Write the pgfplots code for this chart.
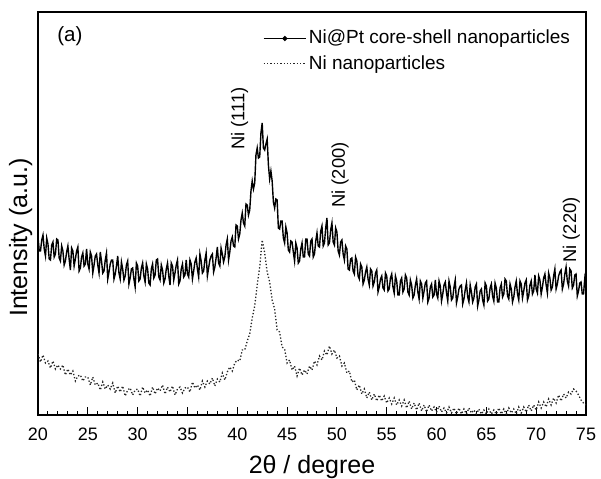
\documentclass[border=0pt]{standalone}
\usepackage{fontspec}
\setmainfont{Liberation Sans}
\usepackage{pgfplots}
\usepackage{pgfplotstable}
\pgfplotsset{compat=1.18}

% Ni@Pt core-shell (upper trace), intensity in arbitrary units
\pgfplotstableread{
x y
20.000 178
20.125 164
20.250 164
20.375 175
20.500 180
20.625 166
20.750 159
20.875 177
21.000 171
21.125 156
21.250 155
21.375 170
21.500 173
21.625 158
21.750 161
21.875 176
22.000 175
22.125 157
22.250 154
22.375 169
22.500 164
22.625 150
22.750 154
22.875 163
23.000 169
23.125 156
23.250 145
23.375 167
23.500 164
23.625 149
23.750 156
23.875 164
24.000 168
24.125 144
24.250 147
24.375 158
24.500 162
24.625 149
24.750 151
24.875 166
25.000 151
25.125 146
25.250 163
25.375 159
25.500 142
25.625 150
25.750 159
25.875 161
26.000 150
26.125 142
26.250 163
26.375 154
26.500 142
26.625 144
26.750 155
26.875 162
27.000 136
27.125 143
27.250 151
27.375 155
27.500 155
27.625 136
27.750 141
27.875 149
28.000 159
28.125 142
28.250 136
28.375 153
28.500 146
28.625 135
28.750 139
28.875 150
29.000 154
29.125 131
29.250 137
29.375 146
29.500 147
29.625 136
29.750 128
29.875 152
30.000 149
30.125 134
30.250 136
30.375 147
30.500 152
30.625 139
30.750 133
30.875 151
31.000 146
31.125 132
31.250 130
31.375 146
31.500 151
31.625 137
31.750 140
31.875 155
32.000 156
32.125 138
32.250 135
32.375 150
32.500 145
32.625 132
32.750 136
32.875 146
33.000 152
33.125 139
33.250 130
33.375 152
33.500 149
33.625 135
33.750 142
33.875 150
34.000 155
34.125 131
34.250 134
34.375 146
34.500 151
34.625 138
34.750 140
34.875 155
35.000 141
35.125 138
35.250 155
35.375 151
35.500 136
35.625 144
35.750 153
35.875 157
36.000 146
36.125 138
36.250 161
36.375 154
36.500 142
36.625 144
36.750 155
36.875 162
37.000 139
37.125 147
37.250 155
37.375 159
37.500 161
37.625 143
37.750 148
37.875 157
38.000 168
38.125 152
38.250 149
38.375 167
38.500 161
38.625 153
38.750 158
38.875 170
39.000 176
39.125 155
39.250 163
39.375 174
39.500 178
39.625 169
39.750 168
39.875 190
40.000 189
40.125 176
40.250 181
40.375 195
40.500 202
40.625 192
40.750 189
40.875 211
41.000 210
41.125 200
41.250 205
41.375 224
41.500 234
41.625 226
41.750 232
41.875 260
42.000 267
42.125 257
42.250 258
42.375 282
42.500 292
42.625 267
42.750 265
42.875 271
43.000 276
43.125 250
43.250 236
43.375 244
43.500 234
43.625 213
43.750 207
43.875 216
44.000 215
44.125 187
44.250 186
44.375 194
44.500 194
44.625 177
44.750 172
44.875 188
45.000 182
45.125 165
45.250 163
45.375 174
45.500 173
45.625 163
45.750 154
45.875 172
46.000 167
46.125 152
46.250 154
46.375 166
46.500 172
46.625 158
46.750 158
46.875 176
47.000 176
47.125 161
47.250 159
47.375 174
47.500 176
47.625 158
47.750 161
47.875 174
48.000 182
48.125 169
48.250 168
48.375 184
48.500 189
48.625 169
48.750 172
48.875 187
49.000 197
49.125 170
49.250 172
49.375 185
49.500 192
49.625 173
49.750 170
49.875 187
50.000 183
50.125 164
50.250 160
50.375 173
50.500 175
50.625 161
50.750 155
50.875 169
51.000 166
51.125 146
51.250 145
51.375 156
51.500 157
51.625 144
51.750 141
51.875 158
52.000 154
52.125 139
52.250 136
52.375 151
52.500 148
52.625 131
52.750 135
52.875 143
53.000 148
53.125 136
53.250 130
53.375 146
53.500 144
53.625 129
53.750 133
53.875 142
54.000 145
54.125 123
54.250 128
54.375 136
54.500 139
54.625 127
54.750 125
54.875 142
55.000 139
55.125 124
55.250 126
55.375 137
55.500 141
55.625 128
55.750 122
55.875 139
56.000 134
56.125 120
56.250 120
56.375 134
56.500 137
56.625 123
56.750 126
56.875 140
57.000 137
57.125 123
57.250 120
57.375 135
57.500 130
57.625 117
57.750 120
57.875 130
58.000 136
58.125 123
58.250 116
58.375 134
58.500 131
58.625 117
58.750 124
58.875 132
59.000 134
59.125 113
59.250 117
59.375 128
59.500 131
59.625 118
59.750 120
59.875 135
60.000 121
60.125 117
60.250 134
60.375 129
60.500 114
60.625 121
60.750 130
60.875 133
61.000 122
61.125 114
61.250 134
61.375 128
61.500 115
61.625 117
61.750 128
61.875 135
62.000 112
62.125 118
62.250 126
62.375 129
62.500 130
62.625 111
62.750 116
62.875 125
63.000 132
63.125 118
63.250 113
63.375 130
63.500 123
63.625 113
63.750 117
63.875 128
64.000 131
64.125 109
64.250 115
64.375 124
64.500 126
64.625 115
64.750 110
64.875 132
65.000 129
65.125 114
65.250 116
65.375 127
65.500 131
65.625 119
65.750 114
65.875 132
66.000 127
66.125 113
66.250 113
66.375 127
66.500 131
66.625 118
66.750 121
66.875 136
67.000 134
67.125 119
67.250 116
67.375 131
67.500 126
67.625 113
67.750 118
67.875 128
68.000 134
68.125 121
68.250 115
68.375 134
68.500 131
68.625 117
68.750 124
68.875 132
69.000 135
69.125 115
69.250 119
69.375 130
69.500 134
69.625 121
69.750 124
69.875 140
70.000 126
70.125 122
70.250 139
70.375 135
70.500 121
70.625 128
70.750 137
70.875 141
71.000 130
71.125 122
71.250 142
71.375 137
71.500 125
71.625 128
71.750 139
71.875 146
72.000 126
72.125 131
72.250 139
72.375 143
72.500 145
72.625 126
72.750 131
72.875 141
73.000 148
73.125 134
73.250 129
73.375 146
73.500 144
73.625 127
73.750 130
73.875 140
74.000 141
74.125 119
74.250 124
74.375 132
74.500 133
74.625 121
74.750 121
74.875 136
75.000 127
}\niptdata

% Ni nanoparticles (lower trace)
\pgfplotstableread{
x y
20.00 61
20.25 53
20.50 60
20.75 52
21.00 54
21.25 47
21.50 54
21.75 46
22.00 50
22.25 46
22.50 50
22.75 40
23.00 46
23.25 40
23.50 44
23.75 34
24.00 39
24.25 40
24.50 34
24.75 38
25.00 38
25.25 30
25.50 38
25.75 30
26.00 32
26.25 25
26.50 33
26.75 26
27.00 30
27.25 26
27.50 32
27.75 22
28.00 29
28.25 23
28.50 29
28.75 19
29.00 25
29.25 27
29.50 20
29.75 25
30.00 26
30.25 19
30.50 28
30.75 22
31.00 25
31.25 19
31.50 28
31.75 21
32.00 27
32.25 24
32.50 30
32.75 21
33.00 28
33.25 23
33.50 29
33.75 20
34.00 26
34.25 28
34.50 22
34.75 27
35.00 28
35.25 23
35.50 33
35.75 27
36.00 30
36.25 25
36.50 34
36.75 28
37.00 34
37.25 31
37.50 37
37.75 29
38.00 36
38.25 33
38.50 42
38.75 35
39.00 43
39.25 48
39.50 44
39.75 52
40.00 55
40.25 54
40.50 65
40.75 65
41.00 74
41.25 81
41.50 97
41.75 109
42.00 130
42.25 148
42.50 175
42.75 162
43.00 143
43.25 133
43.50 115
43.75 106
44.00 85
44.25 83
44.50 68
44.75 66
45.00 52
45.25 55
45.50 45
45.75 49
46.00 39
46.25 47
46.50 40
46.75 45
47.00 41
47.25 49
47.50 45
47.75 54
48.00 50
48.25 59
48.50 55
48.75 64
49.00 60
49.25 69
49.50 61
49.75 65
50.00 57
50.25 59
50.50 49
50.75 52
51.00 42
51.25 44
51.50 33
51.75 35
52.00 25
52.25 30
52.50 21
52.75 26
53.00 17
53.25 23
53.50 15
53.75 21
54.00 14
54.25 20
54.50 14
54.75 19
55.00 12
55.25 17
55.50 11
55.75 17
56.00 10
56.25 15
56.50 9
56.75 15
57.00 7
57.25 14
57.50 6
57.75 12
58.00 5
58.25 12
58.50 4
58.75 10
59.00 3
59.25 10
59.50 4
59.75 8
60.00 3
60.25 9
60.50 3
60.75 7
61.00 2
61.25 8
61.50 2
61.75 7
62.00 1
62.25 7
62.50 1
62.75 6
63.00 1
63.25 7
63.50 2
63.75 5
64.00 1
64.25 6
64.50 1
64.75 5
65.00 1
65.25 6
65.50 1
65.75 5
66.00 1
66.25 7
66.50 1
66.75 6
67.00 1
67.25 7
67.50 2
67.75 6
68.00 1
68.25 8
68.50 2
68.75 8
69.00 3
69.25 10
69.50 4
69.75 10
70.00 5
70.25 13
70.50 7
70.75 13
71.00 8
71.25 16
71.50 10
71.75 17
72.00 12
72.25 20
72.50 14
72.75 21
73.00 17
73.25 23
73.50 21
73.75 26
74.00 24
74.25 20
74.50 15
74.75 12
75.00 10
}\nidata

\begin{document}
\begin{tikzpicture}
\begin{axis}[
  scale only axis,
  width=274pt, height=201.5pt,
  xmin=20, xmax=75,
  ymin=0, ymax=403,
  axis line style={line width=1pt},
  xtick={20,25,...,75},
  minor x tick num=4,
  ytick=\empty,
  xtick pos=bottom,
  tick align=inside,
  major tick length=4pt,
  minor tick length=2pt,
  every tick/.style={black, line width=0.5pt},
  /pgf/number format/assume math mode=true,
  xticklabel style={font=\fontsize{9}{10}\selectfont, anchor=base, yshift=-12.5pt},
  xlabel={2θ / degree},
  ylabel={Intensity (a.u.)},
  xlabel style={font=\fontsize{12.5}{14}\selectfont, at={(axis description cs:0.5,0)}, anchor=base, yshift=-29pt},
  ylabel style={font=\fontsize{12.5}{14}\selectfont, at={(axis description cs:-0.02,0.44)}, anchor=base},
  legend cell align=left,
  legend style={draw=none, fill=none, anchor=north west, at={(rel axis cs:0.41,0.962)},
    font=\fontsize{9.5}{11}\selectfont, row sep=1.8pt, inner sep=0pt,
    nodes={inner sep=1.2pt}},
  legend image code/.code={\draw[#1] plot coordinates {(0cm,0cm) (0.74cm,0cm)};},
]
\addplot[black, line width=0.7pt,
  legend image code/.code={\draw[black, line width=0.5pt] (0cm,0cm) -- (0.74cm,0cm);
    \fill[black] (0.37cm,0cm) circle (0.9pt);}]
  table[x=x, y=y] {\niptdata};
\addlegendentry{Ni@Pt core-shell nanoparticles}
\addplot[black!85, line width=0.65pt, densely dotted] table[x=x, y=y] {\nidata};
\addlegendentry{Ni nanoparticles}

\node[anchor=base west, inner sep=0pt, font=\fontsize{10.3}{12}\selectfont] at (axis cs:21.9,374) {(a)};
\node[rotate=90, anchor=base west, inner sep=0pt, font=\fontsize{9.2}{11}\selectfont] at (axis cs:40.7,265) {Ni (111)};
\node[rotate=90, anchor=base west, inner sep=0pt, font=\fontsize{9.2}{11}\selectfont] at (axis cs:50.8,207) {Ni (200)};
\node[rotate=90, anchor=base west, inner sep=0pt, font=\fontsize{9.2}{11}\selectfont] at (axis cs:74.0,152) {Ni (220)};
\end{axis}
\pgfresetboundingbox
\path (current axis.south west) ++(-19pt,-31.5pt) coordinate (bbl);
\path (current axis.north east) ++(7.5pt,6pt) coordinate (btr);
\useasboundingbox (bbl) rectangle (btr);
\end{tikzpicture}
\end{document}
